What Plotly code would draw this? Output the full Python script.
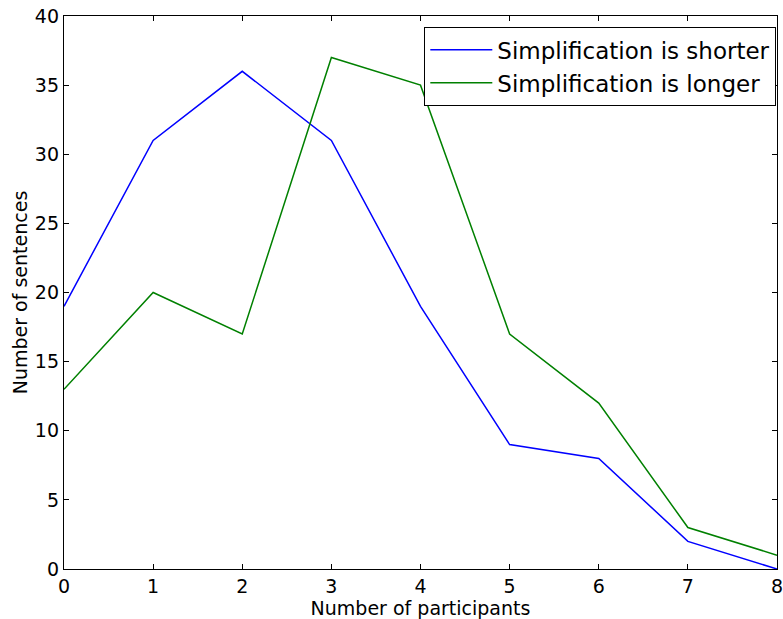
import plotly.graph_objects as go

participants = [0, 1, 2, 3, 4, 5, 6, 7, 8]
shorter = [19, 31, 36, 31, 19, 9, 8, 2, 0]
longer = [13, 20, 17, 37, 35, 17, 12, 3, 1]

fig = go.Figure()
fig.add_trace(go.Scatter(x=participants, y=shorter, mode="lines",
                         name="Simplification is shorter", legendgroup="a",
                         line=dict(color="#0000ff", width=1.5)))
fig.add_trace(go.Scatter(x=participants, y=longer, mode="lines",
                         name="Simplification is longer", legendgroup="b",
                         line=dict(color="#008000", width=1.5)))

axis_common = dict(showgrid=False, zeroline=False, showline=True, linecolor="black",
                   linewidth=1.3, mirror="ticks", ticks="inside", ticklen=5,
                   tickcolor="black", ticklabeloverflow="allow",
                   tickfont=dict(family="DejaVu Sans", size=19, color="black"))

fig.update_layout(
    width=783, height=619,
    margin=dict(l=64, r=6, t=16, b=50),
    paper_bgcolor="white", plot_bgcolor="white",
    font=dict(family="DejaVu Sans", color="black"),
    xaxis=dict(range=[0, 8], dtick=1, automargin=False,
               title=dict(text="Number of participants", font=dict(size=19)),
               **axis_common),
    yaxis=dict(range=[0, 40], dtick=5,
               title=dict(text="Number of sentences", font=dict(size=19), standoff=2),
               **axis_common),
    legend=dict(x=0.9986, y=0.98, xanchor="right", yanchor="top",
                bordercolor="black", borderwidth=1.3, bgcolor="white",
                font=dict(size=23, family="DejaVu Sans"), tracegroupgap=0,
                itemwidth=62),
    showlegend=True,
)

fig.write_html("out.html", config={"displayModeBar": False},
               post_script="document.body.style.margin='0';document.body.style.overflow='hidden';")
